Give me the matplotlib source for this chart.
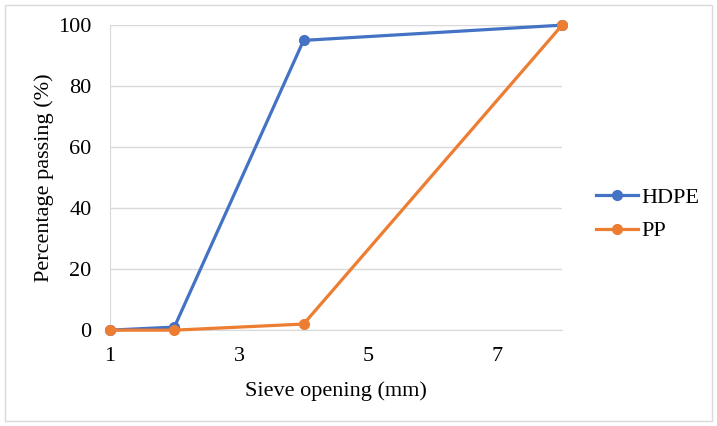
import matplotlib
matplotlib.use("Agg")
import matplotlib.pyplot as plt
from matplotlib.patches import Rectangle

sieve_mm = [1, 2, 4, 8]
hdpe = [0, 1, 95, 100]
pp = [0, 0, 2, 100]
series_names = ["HDPE", "PP"]
x_ticks = [1, 3, 5, 7]
y_ticks = [0, 20, 40, 60, 80, 100]

plt.rcParams['font.family'] = ['Liberation Serif', 'DejaVu Serif']

fig = plt.figure(figsize=(7.17, 4.26), dpi=100)
fig.patches.append(Rectangle((0.007, 0.012), 0.986, 0.976, transform=fig.transFigure,
                             fill=False, edgecolor='#d9d9d9', linewidth=1))
ax = fig.add_axes([0.153, 0.225, 0.631, 0.716])

ax.plot(sieve_mm, hdpe, color='#4472C4', lw=2.3, marker='o', ms=7, label=series_names[0], zorder=3, clip_on=False)
ax.plot(sieve_mm, pp, color='#ED7D31', lw=2.3, marker='o', ms=7, label=series_names[1], zorder=4, clip_on=False)

ax.set_xlim(1, 8)
ax.set_ylim(0, 100)
ax.set_xticks(x_ticks)
ax.set_yticks(y_ticks)
ax.yaxis.grid(True, color='#d9d9d9', lw=1)
ax.set_axisbelow(True)
for s in ['top', 'right']:
    ax.spines[s].set_visible(False)
for s in ['left', 'bottom']:
    ax.spines[s].set_color('#d9d9d9')
ax.tick_params(length=0, labelsize=16)
ax.tick_params(axis='x', pad=12)
ax.tick_params(axis='y', pad=13)
ax.set_xlabel("Sieve opening (mm)", fontsize=16, labelpad=11)
ax.set_ylabel("Percentage passing (%)", fontsize=16, labelpad=3)

ax.legend(loc='center left', bbox_to_anchor=(1.03, 0.38), frameon=False, fontsize=16,
          handlelength=1.9, labelspacing=0.6, handletextpad=0.15)

fig.savefig("out.png", dpi=100)
